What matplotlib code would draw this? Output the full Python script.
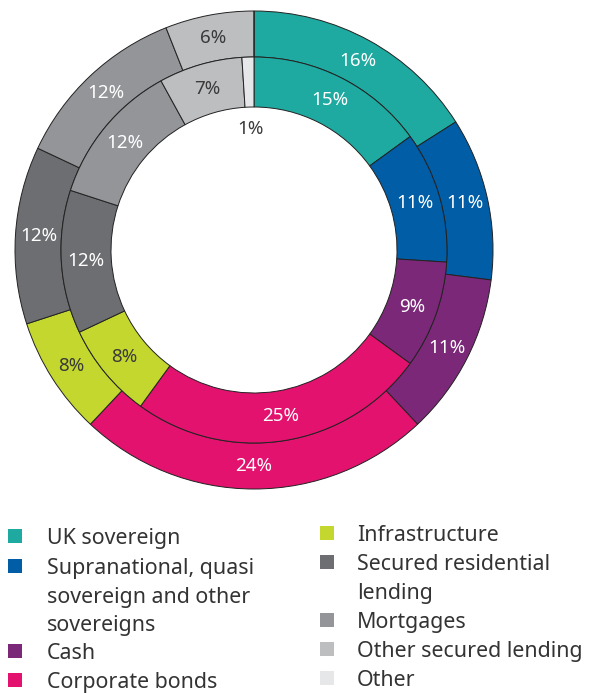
import matplotlib
matplotlib.use("Agg")
import matplotlib.pyplot as plt
from matplotlib.patches import Rectangle
import numpy as np

plt.rcParams['font.family'] = ['Noto Sans', 'DejaVu Sans']

# categories, clockwise from 12 o'clock
categories = ['UK sovereign', 'Supranational, quasi\nsovereign and other\nsovereigns', 'Cash',
              'Corporate bonds', 'Infrastructure', 'Secured residential\nlending', 'Mortgages',
              'Other secured lending', 'Other']
outer_vals = [16, 11, 11, 24, 8, 12, 12, 6, 0]
inner_vals = [15, 11, 9, 25, 8, 12, 12, 7, 1]
colors = ['#1eaaa0', '#005da6', '#7b2878', '#e3126f', '#c3d72e',
          '#6d6e71', '#939598', '#bcbec0', '#e6e7e8']
label_colors = ['white', 'white', 'white', 'white', '#3a3a3a',
                'white', 'white', '#3a3a3a', '#3a3a3a']

W, H = 590, 693
fig = plt.figure(figsize=(W / 100, H / 100), dpi=100)

# pie axes, in pixel units
cx, cy, R = 254, 250, 240
ax = fig.add_axes([(cx - R) / W, 1 - (cy + R) / H, 2 * R / W, 2 * R / H])

r_out, r_mid, r_in = 239, 193, 143
edge = dict(edgecolor='#222222', linewidth=0.7)

ax.pie(outer_vals, radius=r_out, colors=colors, startangle=90, counterclock=False,
       wedgeprops=dict(width=r_out - r_mid, **edge))
ax.pie(inner_vals, radius=r_mid, colors=colors, startangle=90, counterclock=False,
       wedgeprops=dict(width=r_mid - r_in, **edge))
ax.set_xlim(-R, R)
ax.set_ylim(-R, R)
ax.set_aspect('equal')
ax.axis('off')


def put_labels(vals, rad):
    start = 90.0
    for v, c in zip(vals, label_colors):
        if v == 0:
            continue
        sweep = v / sum(vals) * 360
        mid = np.deg2rad(start - sweep / 2)
        r = rad
        if v == 1:
            r = r_in - 22
        ax.text(r * np.cos(mid), r * np.sin(mid), f'{v}%', ha='center', va='center',
                fontsize=13.5, color=c)
        start -= sweep


put_labels(outer_vals, (r_out + r_mid) / 2)
put_labels(inner_vals, (r_mid + r_in) / 2)

# legend, two columns
col1 = [0, 1, 2, 3]
col2 = [4, 5, 6, 7, 8]
base1 = [544, 574, 659, 688]
base2 = [541, 570, 628, 657, 686]
line_h = 28.7


def legend_item(idx, x_sq, x_txt, baseline):
    fig.add_artist(Rectangle((x_sq / W, 1 - (baseline - 1) / H), 14 / W, 14 / H,
                             transform=fig.transFigure, facecolor=colors[idx], edgecolor='none'))
    for k, line in enumerate(categories[idx].split('\n')):
        fig.text(x_txt / W, 1 - (baseline + k * line_h) / H, line, ha='left', va='baseline',
                 fontsize=15.4, color='#333333')


for i, b in zip(col1, base1):
    legend_item(i, 8, 47, b)
for i, b in zip(col2, base2):
    legend_item(i, 320, 357, b)

fig.savefig('out.png', dpi=100)
